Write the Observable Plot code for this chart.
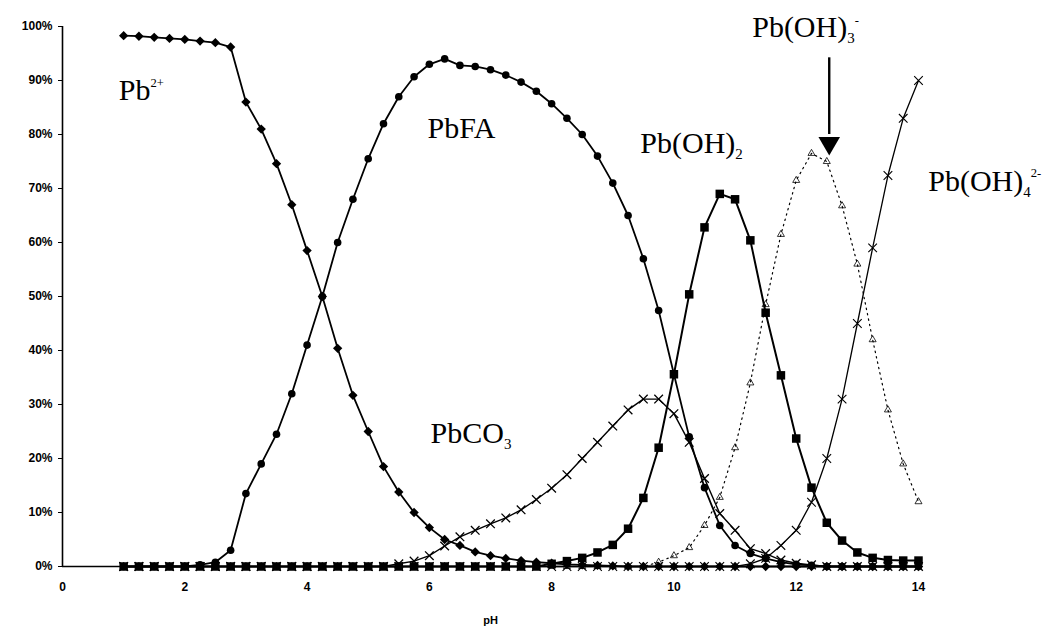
<!DOCTYPE html>
<html>
<head>
<meta charset="utf-8">
<script src="https://cdn.jsdelivr.net/npm/d3@7"></script>
<script src="https://cdn.jsdelivr.net/npm/@observablehq/plot@0.6"></script>
<style>
  html, body { margin: 0; padding: 0; background: #ffffff; }
  #chart { width: 1050px; height: 631px; overflow: hidden; }
</style>
</head>
<body>
<div id="chart"></div>
<script>
// ---- data ----
const pH = [1, 1.25, 1.5, 1.75, 2, 2.25, 2.5, 2.75, 3, 3.25, 3.5, 3.75, 4, 4.25, 4.5, 4.75,
  5, 5.25, 5.5, 5.75, 6, 6.25, 6.5, 6.75, 7, 7.25, 7.5, 7.75, 8, 8.25, 8.5, 8.75,
  9, 9.25, 9.5, 9.75, 10, 10.25, 10.5, 10.75, 11, 11.25, 11.5, 11.75, 12, 12.25, 12.5, 12.75,
  13, 13.25, 13.5, 13.75, 14];

const pb2plus = [98.3, 98.2, 98.0, 97.8, 97.6, 97.3, 97.0, 96.2, 86, 81, 74.6, 67, 58.5, 50, 40.4, 31.7,
  25, 18.5, 13.8, 10, 7.2, 5, 3.9, 2.7, 2, 1.5, 1.1, 0.8, 0.6, 0.4, 0.3, 0.2,
  0.1, 0, 0, 0, 0, 0, 0, 0, 0, 0, 0, 0, 0, 0, 0, 0,
  0, 0, 0, 0, 0];

const pbFA = [0, 0, 0, 0, 0, 0.3, 0.8, 3, 13.5, 19, 24.5, 32, 41, 50, 60, 68,
  75.5, 82, 87, 90.7, 93, 94, 92.8, 92.6, 92, 91, 89.7, 88, 85.7, 83, 80, 76,
  71, 65, 57, 47.4, 35.6, 24, 14.6, 7.6, 3.9, 2.4, 1.5, 0.8, 0.4, 0.2, 0, 0,
  0, 0, 0, 0, 0];

const pbCO3 = [0, 0, 0, 0, 0, 0, 0, 0, 0, 0, 0, 0, 0, 0, 0, 0,
  0, 0, 0.5, 1, 2, 3.8, 5.5, 6.7, 7.9, 9, 10.5, 12.4, 14.5, 17, 20, 23,
  26, 29, 31, 31, 28.3, 23, 16.3, 9.8, 6.7, 3.3, 2.4, 1.2, 0.6, 0.3, 0, 0,
  0, 0, 0, 0, 0];

const pbOH2 = [0, 0, 0, 0, 0, 0, 0, 0, 0, 0, 0, 0, 0, 0, 0, 0,
  0, 0, 0, 0, 0, 0, 0, 0, 0, 0, 0, 0, 0.5, 1, 1.6, 2.6,
  4, 7, 12.7, 22, 35.6, 50.4, 62.8, 69, 68, 60.4, 47, 35.4, 23.7, 14.6, 8.1, 4.8,
  2.6, 1.6, 1.2, 1.1, 1.1];

const pbOH3 = [0, 0, 0, 0, 0, 0, 0, 0, 0, 0, 0, 0, 0, 0, 0, 0,
  0, 0, 0, 0, 0, 0, 0, 0, 0, 0, 0, 0, 0, 0, 0, 0,
  0, 0, 0, 0.8, 2, 3.5, 7.6, 12.8, 22, 34, 48.5, 61.5, 71.5, 76.5, 75, 66.8,
  56, 42, 29, 19, 12];

const pbOH4 = [0, 0, 0, 0, 0, 0, 0, 0, 0, 0, 0, 0, 0, 0, 0, 0,
  0, 0, 0, 0, 0, 0, 0, 0, 0, 0, 0, 0, 0, 0, 0, 0,
  0, 0, 0, 0, 0, 0, 0, 0, 0, 0.5, 1.5, 3.9, 6.7, 11.9, 20, 31,
  45, 59, 72.4, 83, 90];

const xTicks = [0, 2, 4, 6, 8, 10, 12, 14];
const yTicks = [0, 10, 20, 30, 40, 50, 60, 70, 80, 90, 100];

// species labels: text (with _sub / ^sup markup), anchor pH, anchor % (baseline)
const labelText = ["Pb^2+", "PbFA", "Pb(OH)_2", "PbCO_3", "Pb(OH)_3^-", "Pb(OH)_4^2-"];
const labelPH   = [0.92, 5.97, 9.45, 6.02, 11.28, 14.16];
const labelPct  = [86.3, 79.4, 76.5, 22.9, 98.0, 69.6];

// arrow pointing at the Pb(OH)3- peak: pH, shaft top %, shaft bottom %, head %
const arrowPH = [12.54];
const arrowTop = [94.2];
const arrowBottom = [80];
const arrowHead = [78.4];

// ---- build tables ----
const rows = (vals) => pH.map((p, i) => ({pH: p, v: vals[i]}));
const labels = labelText.map((t, i) => ({t, x: labelPH[i], y: labelPct[i]}));
const arrows = arrowPH.map((p, i) => ({x: p, y1: arrowTop[i], y2: arrowBottom[i], h: arrowHead[i]}));

const ink = "#000000";

const plot = Plot.plot({
  width: 1050,
  height: 631,
  marginLeft: 62,
  marginRight: 132,
  marginTop: 26,
  marginBottom: 65,
  style: {fontFamily: "'Liberation Sans', Arial, sans-serif", fontSize: "12px", background: "#ffffff", color: ink},
  x: {domain: [0, 14], label: null},
  y: {domain: [0, 100], label: null},
  marks: [
    // axes
    Plot.axisY({ticks: yTicks, tickFormat: d => d + "%", tickSize: 4, tickPadding: 6, label: null,
      fontSize: 12, fontWeight: "bold", stroke: ink, fill: ink}),
    Plot.axisX({ticks: xTicks, tickSize: 0, tickPadding: 16, label: null,
      fontSize: 12, fontWeight: "bold", fill: ink}),
    Plot.ruleX([0], {stroke: ink, strokeWidth: 1.6}),
    Plot.ruleY([0], {stroke: ink, strokeWidth: 1.6}),
    Plot.text(["pH"], {frameAnchor: "bottom", dy: 57, fontSize: 11, fontWeight: "bold", fill: ink}),

    // Pb(OH)3- : dotted line, small open triangles
    Plot.line(rows(pbOH3), {x: "pH", y: "v", stroke: ink, strokeWidth: 1.2, strokeDasharray: "1.5,4"}),
    Plot.dot(rows(pbOH3), {x: "pH", y: "v", symbol: "triangle", r: 2.6, stroke: ink, strokeWidth: 0.8, fill: "none"}),

    // PbCO3 : thin line with x markers
    Plot.line(rows(pbCO3), {x: "pH", y: "v", stroke: ink, strokeWidth: 1.4}),
    Plot.dot(rows(pbCO3), {x: "pH", y: "v", symbol: "times", r: 4, stroke: ink, strokeWidth: 1.3}),

    // Pb(OH)4 2- : thin line with x markers
    Plot.line(rows(pbOH4), {x: "pH", y: "v", stroke: ink, strokeWidth: 1.3}),
    Plot.dot(rows(pbOH4), {x: "pH", y: "v", symbol: "times", r: 4, stroke: ink, strokeWidth: 1.1}),

    // PbFA : line with filled round markers
    Plot.line(rows(pbFA), {x: "pH", y: "v", stroke: ink, strokeWidth: 1.8}),
    Plot.dot(rows(pbFA), {x: "pH", y: "v", symbol: "circle", r: 3.8, fill: ink}),

    // Pb2+ : line with filled diamonds
    Plot.line(rows(pb2plus), {x: "pH", y: "v", stroke: ink, strokeWidth: 1.8}),
    Plot.dot(rows(pb2plus), {x: "pH", y: "v", symbol: "diamond2", r: 4.2, fill: ink}),

    // Pb(OH)2 : line with filled squares
    Plot.line(rows(pbOH2), {x: "pH", y: "v", stroke: ink, strokeWidth: 2}),
    Plot.dot(rows(pbOH2), {x: "pH", y: "v", symbol: "square", r: 4.8, fill: ink}),

    // arrow annotation
    Plot.ruleX(arrows, {x: "x", y1: "y1", y2: "y2", stroke: ink, strokeWidth: 2.4}),
    Plot.dot(arrows, {x: "x", y: "h", symbol: "triangle", rotate: 180, r: 8, fill: ink}),

    // species labels
    Plot.text(labels, {x: "x", y: "y", text: "t", textAnchor: "start", lineAnchor: "bottom",
      fontSize: 30, fontFamily: "'Liberation Serif', 'Times New Roman', serif", fill: ink})
  ]
});

document.getElementById("chart").appendChild(plot);

// turn _sub / ^sup markup of the species labels into real tspans
const fs = 30;
plot.querySelectorAll("text").forEach(el => {
  const raw = el.textContent;
  if (!/[_^]/.test(raw) || el.children.length) return;
  const parts = raw.split(/([_^][^_^]+)/).filter(s => s);
  el.textContent = "";
  let shift = 0;
  for (const p of parts) {
    const ts = document.createElementNS("http://www.w3.org/2000/svg", "tspan");
    let target = 0, size = null, s = p;
    if (p[0] === "_") { target = 0.2 * fs; size = 0.5 * fs; s = p.slice(1); }
    else if (p[0] === "^") { target = -0.45 * fs; size = 0.42 * fs; s = p.slice(1); }
    ts.setAttribute("dy", String(target - shift));
    shift = target;
    if (size) ts.setAttribute("font-size", String(size));
    ts.textContent = s;
    el.appendChild(ts);
  }
});
</script>
</body>
</html>
